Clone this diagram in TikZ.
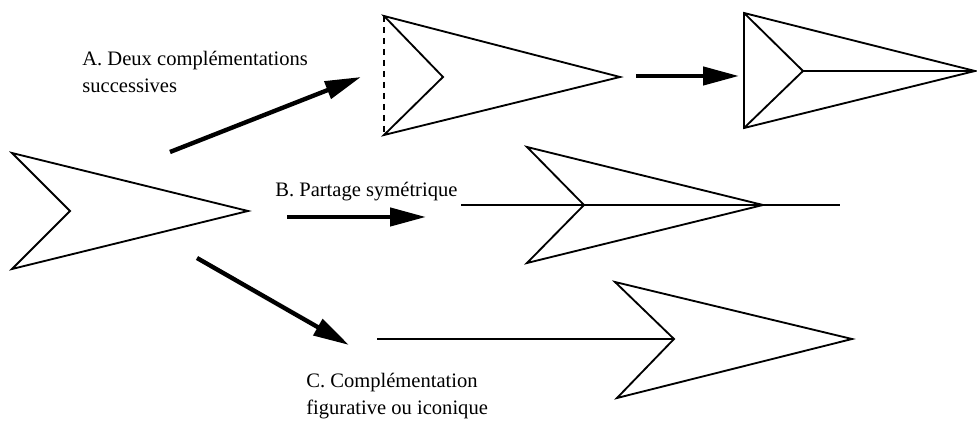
\documentclass[tikz,border=0pt]{standalone}
\usepackage{fontspec}
\setmainfont{Liberation Serif}
\usetikzlibrary{arrows.meta, positioning}

\begin{document}
\begin{tikzpicture}[x=0.02cm, y=-0.02cm,
    contour/.style={line width=1.05pt, line join=miter},
    pointille/.style={line width=1pt, dash pattern=on 0.13cm off 0.09cm},
    fleche/.style={line width=2.5pt, -{Triangle[length=0.72cm, width=0.36cm]}},
    legende/.style={anchor=base west, inner sep=0pt, align=left, font=\fontsize{11.7}{15.4}\selectfont}
]
\useasboundingbox (0,0) rectangle (977,421);

% forme de depart
\coordinate (s0h) at (12,153);
\coordinate (s0n) at (70,211);
\coordinate (s0p) at (248,211);
\coordinate (s0b) at (12,269);
\draw[contour] (s0h) -- (s0n) -- (s0b) -- (s0p) -- cycle;

% A : deux complementations
\coordinate (a1h) at (384,16);
\coordinate (a1n) at (443,77);
\coordinate (a1p) at (620,77);
\coordinate (a1b) at (384,135);
\draw[contour] (a1h) -- (a1n) -- (a1b) -- (a1p) -- cycle;
\draw[pointille] (a1h) -- (a1b);

\coordinate (a2h) at (744,13);
\coordinate (a2n) at (803,71);
\coordinate (a2p) at (975,71);
\coordinate (a2b) at (744,128);
\draw[contour] (a2h) -- (a2p) -- (a2b) -- cycle;
\draw[contour] (a2h) -- (a2n) -- (a2b);
\draw[contour] (a2n) -- (a2p);

% B : partage symetrique
\coordinate (bh) at (527,147);
\coordinate (bn) at (584,205);
\coordinate (bp) at (763,205);
\coordinate (bb) at (527,263);
\coordinate (bg) at (461,205);
\coordinate (bd) at (840,205);
\draw[contour] (bh) -- (bn) -- (bb) -- (bp) -- cycle;
\draw[contour] (bg) -- (bd);

% C : complementation figurative
\coordinate (ch) at (615,282);
\coordinate (cn) at (674,339);
\coordinate (cp) at (852,339);
\coordinate (cb) at (617,398);
\coordinate (cg) at (377,339);
\draw[contour] (ch) -- (cn) -- (cb) -- (cp) -- cycle;
\draw[contour] (cg) -- (cn);

% legendes
\node[legende] (txtA) at (82,93) {A. Deux complémentations\\successives};
\node[legende] (txtB) at (275,197) {B. Partage symétrique};
\node[legende] (txtC) at (306,415) {C. Complémentation\\figurative ou iconique};

% fleches
\coordinate (fa0) at (170,152);
\coordinate (fa1) at (361,77);
\coordinate (fb0) at (287,217);
\coordinate (fb1) at (426,217);
\coordinate (fc0) at (197,258);
\coordinate (fc1) at (349,345);
\coordinate (fd0) at (636,76);
\coordinate (fd1) at (739,76);
\draw[fleche] (fa0) -- (fa1);
\draw[fleche] (fb0) -- (fb1);
\draw[fleche] (fc0) -- (fc1);
\draw[fleche] (fd0) -- (fd1);

\end{tikzpicture}
\end{document}
